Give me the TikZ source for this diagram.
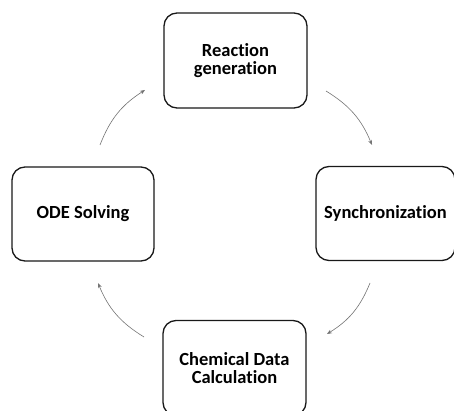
\documentclass[tikz,border=0pt]{standalone}
\usepackage{fontspec}
\setmainfont[Ligatures={NoCommon}]{Carlito}
\usetikzlibrary{arrows.meta}
\begin{document}
\begin{tikzpicture}[x=1pt,y=-1pt,
  stepbox/.style={draw=black!90, line width=1.3pt, rounded corners=13pt,
    minimum width=143pt, minimum height=95pt, align=center, inner sep=0pt,
    font=\fontsize{18.5}{18.5}\selectfont\bfseries},
  flow/.style={draw=black!55, line width=0.6pt, -{Stealth[length=5pt,width=4pt]}, bend left=18}]
\useasboundingbox (0,0) rectangle (454,411);
\begin{scope}
\clip (0,0) rectangle (454,411);
\node[stepbox] (rg) at (235.5,60.5) {Reaction\\generation};
\node[stepbox, minimum width=142pt, minimum height=94pt] (ode) at (83,214) {ODE Solving};
\node[stepbox, minimum width=139pt, minimum height=94pt] (sync) at (385.5,213.5) {Synchronization};
\node[stepbox] (chem) at (234.5,368) {Chemical Data\\Calculation};
\end{scope}
\coordinate (a1s) at (100,145); \coordinate (a1e) at (145,90);
\coordinate (a2s) at (326,91);  \coordinate (a2e) at (372,145);
\coordinate (a3s) at (370,283); \coordinate (a3e) at (327,334);
\coordinate (a4s) at (144,337); \coordinate (a4e) at (98,283);
\draw[flow] (a1s) to (a1e);
\draw[flow] (a2s) to (a2e);
\draw[flow] (a3s) to (a3e);
\draw[flow] (a4s) to (a4e);
\end{tikzpicture}
\end{document}
